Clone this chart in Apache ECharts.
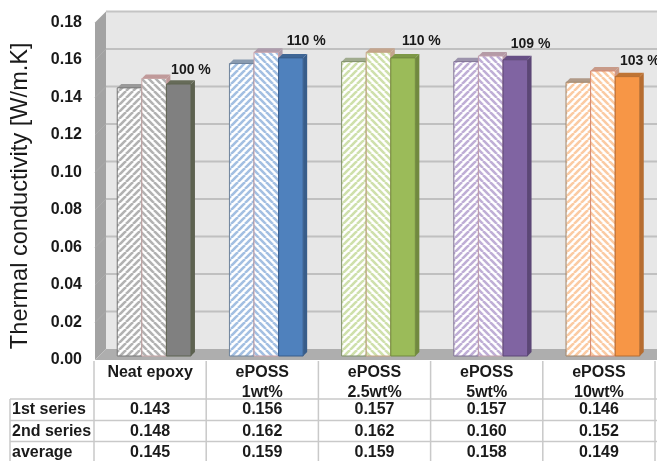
<!DOCTYPE html>
<html>
<head>
<meta charset="utf-8">
<style>html,body{margin:0;padding:0;background:#fff}#c{width:657px;height:461px}</style>
<script src="https://cdn.jsdelivr.net/npm/echarts@6/dist/echarts.min.js"></script>
</head>
<body>
<div id="c"></div>
<script>
const categories = ['Neat epoxy', 'ePOSS\n1wt%', 'ePOSS\n2.5wt%', 'ePOSS\n5wt%', 'ePOSS\n10wt%'];
const firstSeries = [0.143, 0.156, 0.157, 0.157, 0.146];
const secondSeries = [0.148, 0.162, 0.162, 0.160, 0.152];
const average = [0.145, 0.159, 0.159, 0.158, 0.149];
const percentLabels = ['100 %', '110 %', '110 %', '109 %', '103 %'];
const labelLift = [14, 17, 17, 16, 15];
const labelShift = [0, 3, 6, 3, 0];
const yTicks = [0, 0.02, 0.04, 0.06, 0.08, 0.10, 0.12, 0.14, 0.16, 0.18];
const rowNames = ['1st series', '2nd series', 'average'];
const rowValues = [firstSeries, secondSeries, average];

const solid = ['#808080', '#4f81bd', '#9bbb59', '#8064a2', '#f79646'];
const sideCol = ['#5d6250', '#385d8a', '#71893f', '#5c4776', '#b66d31'];
const topCol = ['#666b58', '#3f6695', '#7d9846', '#674f85', '#bf7434'];
const hatch = ['#b2b2b2', '#a3bfe2', '#cfe0ab', '#bfaed6', '#fbcba3'];
const border1 = ['#777777', '#6f839c', '#7f8f68', '#7f7294', '#a08468'];
const top1 = ['#9a9a9a', '#8a9bb0', '#a0ab8e', '#9c93ac', '#b09a88'];
const border2 = ['#c9a6a6', '#c9a0a8', '#c4a27f', '#c19fae', '#d88a70'];
const top2 = ['#c09a9a', '#ad9cac', '#c4a58e', '#b59aa6', '#c89a88'];

function hatchPattern(color, dir) {
  const s = 7, c = document.createElement('canvas');
  c.width = s; c.height = s;
  const g = c.getContext('2d');
  g.fillStyle = '#fff'; g.fillRect(0, 0, s, s);
  g.strokeStyle = color; g.lineWidth = 2.6;
  for (let i = -s; i <= 2 * s; i += s) {
    g.beginPath();
    if (dir > 0) { g.moveTo(i, s); g.lineTo(i + s, 0); }
    else { g.moveTo(i, 0); g.lineTo(i + s, s); }
    g.stroke();
  }
  return c;
}
const pats = [solid.map(() => 0), solid.map(() => 0)];
hatch.forEach((h, i) => { pats[0][i] = hatchPattern(h, 1); pats[1][i] = hatchPattern(h, -1); });

const BAR_DX = 4, BAR_DY = 4, DEPTH = 4, WALL = 11;

function barRender(slot) {
  return function (params, api) {
    const i = api.value(0), v = api.value(1);
    const band = api.size([1, 0])[0];
    const w = band * 0.219;
    const base = api.coord([i, 0]);
    const top = api.coord([i, v]);
    const x0 = base[0] + BAR_DX - 1.5 * w + slot * w, x1 = x0 + w;
    const y0 = top[1] - BAR_DY, y1 = base[1] - BAR_DY;
    let fill, stroke, sideFill, topFill;
    if (slot === 2) { fill = solid[i]; stroke = sideCol[i]; sideFill = sideCol[i]; topFill = topCol[i]; }
    else if (slot === 0) { fill = { image: pats[0][i], repeat: 'repeat' }; stroke = border1[i]; sideFill = top1[i]; topFill = top1[i]; }
    else { fill = { image: pats[1][i], repeat: 'repeat' }; stroke = border2[i]; sideFill = top2[i]; topFill = top2[i]; }
    return {
      type: 'group',
      children: [
        { type: 'polygon', shape: { points: [[x1, y0], [x1 + DEPTH, y0 - DEPTH], [x1 + DEPTH, y1 - DEPTH], [x1, y1]] }, style: { fill: sideFill } },
        { type: 'polygon', shape: { points: [[x0, y0], [x0 + DEPTH, y0 - DEPTH], [x1 + DEPTH, y0 - DEPTH], [x1, y0]] }, style: { fill: topFill } },
        { type: 'rect', shape: { x: x0, y: y0, width: w, height: y1 - y0 }, style: { fill: fill, stroke: stroke, lineWidth: 1 } }
      ]
    };
  };
}

const chart = echarts.init(document.getElementById('c'), null, { renderer: 'canvas' });

const left = 94, bandW = 112.2, tableTop = 361, tableBottom = 461;
const rowLines = [399, 420.5, 441.5];
const rowCentres = [410, 431.5, 453];
const gridLine = '#c9c9c9';
const textCol = '#1a1a1a';
const graphics = [];
function hLine(x1, x2, y) { graphics.push({ type: 'line', silent: true, shape: { x1, y1: y, x2, y2: y }, style: { stroke: gridLine, lineWidth: 1.5 } }); }
function vLine(x, y1, y2) { graphics.push({ type: 'line', silent: true, shape: { x1: x, y1, x2: x, y2 }, style: { stroke: gridLine, lineWidth: 1.5 } }); }
rowLines.forEach(y => hLine(10, 657, y));
vLine(10, rowLines[0], tableBottom);
for (let k = 0; k <= categories.length; k++) vLine(left + k * bandW, tableTop, tableBottom);
rowNames.forEach((name, r) => {
  graphics.push({ type: 'text', silent: true, x: 12, y: rowCentres[r], style: { text: name, fill: textCol, font: 'bold 16px "Liberation Sans"', textAlign: 'left', textVerticalAlign: 'middle' } });
  rowValues[r].forEach((v, c) => {
    graphics.push({ type: 'text', silent: true, x: left + (c + 0.5) * bandW, y: rowCentres[r], style: { text: v.toFixed(3), fill: textCol, font: 'bold 16px "Liberation Sans"', textAlign: 'center', textVerticalAlign: 'middle' } });
  });
});

const catIdx = categories.map((_, i) => i);
chart.setOption({
  animation: false,
  backgroundColor: '#fff',
  grid: { left: left, top: 22.5, width: bandW * categories.length, bottom: 101, containLabel: false },
  xAxis: {
    type: 'category', data: categories,
    axisLine: { show: false }, axisTick: { show: false },
    axisLabel: { interval: 0, margin: 3, color: textCol, fontFamily: 'Liberation Sans', fontWeight: 'bold', fontSize: 16, lineHeight: 20, verticalAlign: 'top' }
  },
  yAxis: {
    type: 'value', min: 0, max: 0.18, interval: 0.02,
    name: 'Thermal conductivity [W/m.K]', nameLocation: 'middle', nameGap: 62, nameRotate: 90,
    nameTextStyle: { color: textCol, fontFamily: 'Liberation Sans', fontSize: 23.6, padding: [0, 9, 0, 0] },
    axisLine: { show: false }, axisTick: { show: false }, splitLine: { show: false },
    axisLabel: { margin: 12, color: textCol, fontFamily: 'Liberation Sans', fontWeight: 'bold', fontSize: 16, formatter: v => v.toFixed(2) }
  },
  graphic: graphics,
  series: [
    {
      type: 'custom', silent: true, z: 1, data: [0], clip: false,
      renderItem: function (params, api) {
        const c = params.coordSys;
        const b = api.coord([0, 0])[1], t = api.coord([0, 0.18])[1];
        const l = c.x + 1, r = 657;
        return {
          type: 'group', children: [
            { type: 'polygon', shape: { points: [[l + WALL, t - WALL], [r, t - WALL], [r, b - WALL], [l + WALL, b - WALL]] }, style: { fill: '#e7e7e7' } },
            { type: 'line', shape: { x1: l + WALL, y1: t - WALL, x2: r, y2: t - WALL }, style: { stroke: '#c4c4c4', lineWidth: 2 } },
            { type: 'polygon', shape: { points: [[l, t], [l + WALL, t - WALL], [l + WALL, b - WALL], [l, b]] }, style: { fill: '#a3a3a3' } },
            { type: 'polygon', shape: { points: [[l, b], [l + WALL, b - WALL], [r, b - WALL], [r, b]] }, style: { fill: '#aeaeae' } }
          ]
        };
      }
    },
    {
      type: 'custom', silent: true, z: 2, clip: false,
      data: yTicks.slice(1, -1).map(v => [v]),
      encode: { y: 0 },
      renderItem: function (params, api) {
        const y = api.coord([0, api.value(0)])[1];
        const l = params.coordSys.x + 1;
        return {
          type: 'group', children: [
            { type: 'line', shape: { x1: l + WALL, y1: y - WALL, x2: 657, y2: y - WALL }, style: { stroke: '#c0c0c0', lineWidth: 2 } },
            { type: 'line', shape: { x1: l, y1: y, x2: l + WALL, y2: y - WALL }, style: { stroke: '#acacac', lineWidth: 1 } }
          ]
        };
      }
    },
    { name: '1st series', type: 'custom', z: 3, clip: false, renderItem: barRender(0), encode: { x: 0, y: 1 }, data: catIdx.map(i => [i, firstSeries[i]]) },
    { name: '2nd series', type: 'custom', z: 4, clip: false, renderItem: barRender(1), encode: { x: 0, y: 1 }, data: catIdx.map(i => [i, secondSeries[i]]) },
    { name: 'average', type: 'custom', z: 5, clip: false, renderItem: barRender(2), encode: { x: 0, y: 1 }, data: catIdx.map(i => [i, average[i]]) },
    {
      type: 'custom', silent: true, z: 6, clip: false,
      encode: { x: 0, y: 1 }, data: catIdx.map(i => [i, average[i]]),
      renderItem: function (params, api) {
        const i = api.value(0);
        const p = api.coord([i, api.value(1)]);
        const w = api.size([1, 0])[0] * 0.219;
        return {
          type: 'text', x: p[0] + BAR_DX + 1.5 * w + labelShift[i], y: p[1] - BAR_DY - labelLift[i],
          style: { text: percentLabels[i], fill: textCol, font: 'bold 14px "Liberation Sans"', textAlign: 'center', textVerticalAlign: 'middle' }
        };
      }
    }
  ]
});
</script>
</body>
</html>
